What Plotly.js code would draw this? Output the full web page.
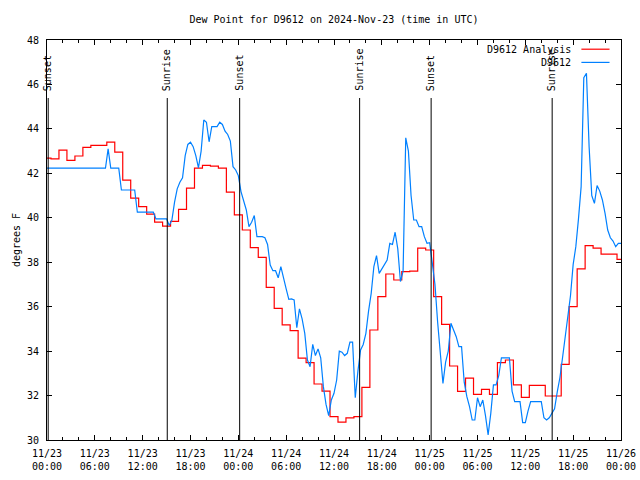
<!DOCTYPE html>
<html>
<head>
<meta charset="utf-8">
<script src="https://cdn.plot.ly/plotly-3.0.1.min.js"></script>
<style>html,body{margin:0;padding:0;background:#fff}#chart{width:640px;height:480px}</style>
</head>
<body>
<div id="chart"></div>
<script>
// ---- data ----
const startTime = '2024-11-23T00:00:00Z';
const endTime = '2024-11-26 00:00:00';
const analysisStepMinutes = 60;   // hourly analysis
const stationStepMinutes = 20;    // station observations

const analysisValues = [
  42.68, 42.65, 43.04, 42.58, 42.78, 43.17, 43.26, 43.26, 43.40, 42.95, 41.69, 40.88,
  40.50, 40.16, 39.80, 39.62, 39.84, 40.38, 41.33, 42.23, 42.36, 42.32, 42.23, 41.15,
  40.13, 39.45, 38.66, 38.22, 36.87, 35.92, 35.18, 34.92, 33.68, 33.48, 32.52, 32.20,
  31.05, 30.80, 31.00, 31.05, 32.37, 34.95, 36.45, 37.47, 37.20, 37.58, 37.60, 38.63,
  38.55, 36.45, 35.20, 33.33, 32.19, 32.78, 32.05, 32.28, 32.05, 33.48, 33.60, 32.48,
  31.92, 32.46, 32.46, 31.98, 31.98, 33.40, 36.00, 37.70, 38.75, 38.63, 38.36, 38.36,
  38.13
];

const stationValues = [
  42.23, 42.23, 42.23, 42.23, 42.23, 42.23,
  42.23, 42.23, 42.23, 42.23, 42.23, 42.23,
  42.23, 42.23, 42.23, 42.23, 42.23, 42.23,
  42.23, 42.23, 42.23, 42.23, 42.23, 43.10,
  42.23, 42.23, 42.23, 42.23, 41.25, 41.25,
  41.25, 41.25, 41.25, 41.25, 40.25, 40.25,
  40.25, 40.25, 40.25, 40.25, 40.25, 39.95,
  39.95, 39.95, 39.95, 39.95, 39.65, 39.90,
  40.70, 41.30, 41.60, 41.80, 42.80, 43.30,
  43.40, 43.20, 42.80, 42.25, 43.00, 44.40,
  44.30, 43.42, 44.10, 44.10, 44.10, 44.30,
  44.20, 43.90, 43.75, 43.45, 42.30, 42.15,
  41.90, 41.18, 40.80, 40.35, 39.60, 39.80,
  40.10, 39.15, 39.15, 39.15, 39.10, 38.80,
  37.87, 37.62, 37.62, 37.30, 37.80, 37.25,
  36.80, 36.33, 36.35, 36.30, 35.05, 35.90,
  35.45, 34.80, 33.60, 33.30, 34.30, 33.80,
  34.10, 33.70, 32.40, 31.60, 31.10, 31.80,
  32.10, 32.70, 34.00, 33.95, 33.80, 33.90,
  34.40, 34.40, 31.90, 33.10, 34.05, 34.30,
  34.80, 35.80, 36.60, 37.80, 38.30, 37.50,
  37.70, 37.90, 38.10, 38.85, 38.80, 39.35,
  38.60, 37.13, 37.60, 43.60, 43.00, 41.00,
  39.90, 39.90, 39.60, 39.60, 39.15, 38.85,
  38.88, 37.95, 37.00, 35.30, 33.70, 32.55,
  33.50, 34.00, 35.25, 34.95, 34.65, 34.20,
  34.20, 32.60, 31.95, 31.50, 30.90, 30.90,
  31.90, 31.50, 31.80, 31.10, 30.23, 31.20,
  32.48, 32.48, 32.90, 33.70, 33.70, 33.70,
  33.70, 32.20, 31.73, 31.73, 31.73, 30.78,
  30.78, 31.30, 31.73, 31.73, 31.73, 31.73,
  31.73, 31.00, 30.90, 31.00, 31.20, 31.40,
  32.15, 32.80, 33.70, 34.65, 35.40, 36.50,
  37.90, 38.70, 39.95, 41.40, 46.30, 46.50,
  43.20, 41.00, 40.65, 41.45, 41.20, 40.80,
  40.20, 39.45, 39.10, 38.95, 38.70, 38.85,
  38.85
];

const sunsetTimes  = ['2024-11-23 00:09:00', '2024-11-24 00:10:00', '2024-11-25 00:11:00'];
const sunriseTimes = ['2024-11-23 15:05:00', '2024-11-24 15:13:00', '2024-11-25 15:22:00'];

const seriesNames = ['D9612 Analysis', 'D9612'];
const seriesColors = ['#ff0000', '#0080ff'];
const titleText = 'Dew Point for D9612 on 2024-Nov-23 (time in UTC)';
const yTitleText = 'degrees F';

// ---- helpers ----
function timesFor(n, stepMin) {
  const t0 = Date.parse(startTime);
  const out = [];
  for (let i = 0; i < n; i++) {
    out.push(new Date(t0 + i * stepMin * 60000).toISOString().replace('T', ' ').slice(0, 19));
  }
  return out;
}

const font = {family: 'DejaVu Sans Mono, Liberation Mono, monospace', size: 10, color: '#000'};
const HOUR = 3600 * 1000;

const traces = [
  {
    x: timesFor(analysisValues.length, analysisStepMinutes),
    y: analysisValues,
    name: seriesNames[0],
    type: 'scatter', mode: 'lines',
    line: {color: seriesColors[0], width: 1.2, shape: 'hvh'},
    hoverinfo: 'skip'
  },
  {
    x: timesFor(stationValues.length, stationStepMinutes),
    y: stationValues,
    name: seriesNames[1],
    type: 'scatter', mode: 'lines',
    line: {color: seriesColors[1], width: 1.2},
    hoverinfo: 'skip'
  }
];

const lineTop = 0.855;
const labelBottom = 0.8675;
const shapes = [];
const annotations = [];
function addEvent(t, label) {
  shapes.push({type: 'line', xref: 'x', yref: 'paper', x0: t, x1: t, y0: 0, y1: lineTop,
               line: {color: '#000', width: 1}});
  annotations.push({xref: 'x', yref: 'paper', x: t, y: labelBottom, text: label, textangle: -90,
                    showarrow: false, xanchor: 'center', yanchor: 'bottom', font: font});
}
sunsetTimes.forEach(t => addEvent(t, 'Sunset'));
sunriseTimes.forEach(t => addEvent(t, 'Sunrise'));

// legend drawn as text + line sample (text left of sample)
const legendRows = [0.977, 0.944];
seriesNames.forEach((nm, i) => {
  annotations.push({xref: 'paper', yref: 'paper', x: 0.917, y: legendRows[i], text: nm,
                    showarrow: false, xanchor: 'right', yanchor: 'middle', font: font});
  shapes.push({type: 'line', xref: 'paper', yref: 'paper', x0: 0.931, x1: 0.980,
               y0: legendRows[i], y1: legendRows[i], line: {color: seriesColors[i], width: 1.2}});
});

const layout = {
  width: 640, height: 480,
  margin: {l: 47, r: 19, t: 40, b: 40},
  paper_bgcolor: '#fff', plot_bgcolor: '#fff',
  font: font,
  showlegend: false,
  title: {text: titleText, font: font, xref: 'paper', x: 0.5, xanchor: 'center',
          yref: 'container', y: 1 - 19 / 480, yanchor: 'middle'},
  xaxis: {
    type: 'date', range: ['2024-11-23 00:00:00', endTime],
    tick0: '2024-11-23 00:00:00', dtick: 6 * HOUR, tickformat: '%m/%d<br>%H:%M',
    ticks: 'inside', ticklen: 5, tickwidth: 1, tickcolor: '#000',
    showline: true, linecolor: '#000', linewidth: 1, mirror: 'ticks',
    showgrid: false, zeroline: false, tickfont: font, ticklabelstandoff: 4,
    minor: {dtick: 2 * HOUR, ticks: 'inside', ticklen: 3, tickcolor: '#000', showgrid: false}
  },
  yaxis: {
    range: [30, 48], dtick: 2, tick0: 30,
    ticks: 'inside', ticklen: 5, tickwidth: 1, tickcolor: '#000',
    showline: true, linecolor: '#000', linewidth: 1, mirror: 'ticks',
    showgrid: false, zeroline: false, tickfont: font, ticklabelstandoff: 5,
    title: {text: yTitleText, font: font, standoff: 4}
  },
  shapes: shapes,
  annotations: annotations
};

Plotly.newPlot('chart', traces, layout, {staticPlot: true, displayModeBar: false});
</script>
</body>
</html>
